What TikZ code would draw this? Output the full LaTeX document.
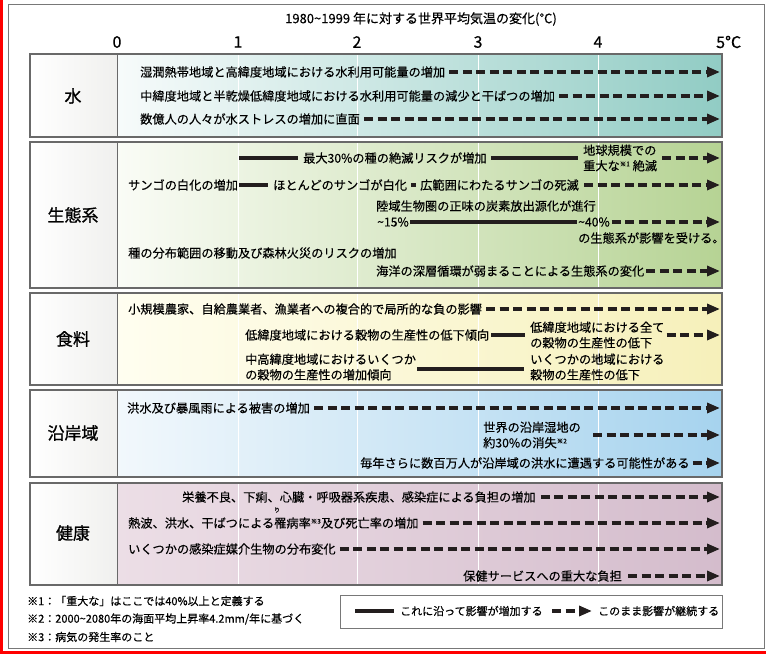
\documentclass[tikz,border=0pt]{standalone}
\usepackage{fontspec}
\setmainfont{Noto Sans CJK JP}[FakeBold=0.35]
\newfontfamily\labfont{Noto Sans CJK JP}[FakeBold=1.0]
\usetikzlibrary{arrows.meta}
\definecolor{arrowc}{RGB}{35,30,30}
\definecolor{framec}{RGB}{120,120,120}
\definecolor{panelc}{RGB}{105,105,105}
\definecolor{labr}{RGB}{240,240,238}
\definecolor{wL}{RGB}{247,251,251}\definecolor{wR}{RGB}{145,204,196}
\definecolor{eL}{RGB}{250,252,246}\definecolor{eR}{RGB}{182,211,148}
\definecolor{fL}{RGB}{255,254,240}\definecolor{fR}{RGB}{246,240,186}
\definecolor{cL}{RGB}{242,248,252}\definecolor{cR}{RGB}{166,211,238}
\definecolor{hL}{RGB}{236,222,230}\definecolor{hR}{RGB}{212,188,204}
\newcommand{\mypanel}[4]{%
  \shade[left color=#3,right color=#4] (117,#1) rectangle (722,#2);
  \shade[left color=white,right color=labr] (30,#1) rectangle (117,#2);
  \foreach \xx in {238,357,478,598} \draw[white,line width=1pt] (\xx,#1) -- (\xx,#2);
  \draw[panelc,line width=1.2pt] (30,#1) rectangle (722,#2);
  \draw[panelc,line width=0.8pt] (117,#1) -- (117,#2);
}
\newcommand{\kome}[1]{\raisebox{4pt}{\fontsize{6.5}{7}\selectfont ※#1}}
\begin{document}
\begin{tikzpicture}[x=1pt,y=-1pt,
  txt/.style={anchor=west,inner sep=0pt,font=\fontsize{12.2}{15.5}\selectfont,align=left},
  lab/.style={font=\labfont\fontsize{17}{20}\selectfont,inner sep=0pt},
  tick/.style={font=\fontsize{16}{17}\selectfont,inner sep=0pt},
  note/.style={anchor=west,inner sep=0pt,font=\fontsize{11}{13}\selectfont},
  dasharr/.style={line width=3.2pt,dash pattern=on 9pt off 4.5pt,-{Triangle[length=13pt,width=10pt]},draw=arrowc},
  solidln/.style={line width=3.2pt,draw=arrowc}]
\useasboundingbox (0,0) rectangle (766,654);
\fill[white] (0,0) rectangle (766,654);
% outer frame and red marks
\draw[framec,line width=1pt] (8,4) rectangle (764,648);
\fill[red] (0,0) rectangle (3,654);
\fill[red] (0,651) rectangle (766,654);
\coordinate (ex) at (720,0);
% title and ticks
\node[font=\fontsize{13}{14}\selectfont,inner sep=0pt] (title) at (421,19) {1980\textasciitilde1999 年に対する世界平均気温の変化(℃)};
\node[tick] (t0) at (117,42) {0};
\node[tick] (t1) at (238,42) {1};
\node[tick] (t2) at (357,42) {2};
\node[tick] (t3) at (478,42) {3};
\node[tick] (t4) at (598,42) {4};
\node[tick,anchor=west] (t5) at (716,42) {5°C};
% panels
\mypanel{54}{137}{wL}{wR}
\mypanel{142}{288}{eL}{eR}
\mypanel{293}{385}{fL}{fR}
\mypanel{390}{477}{cL}{cR}
\mypanel{483}{585}{hL}{hR}
% labels
\node[lab] (L1) at (73,96) {水};
\node[lab] (L2) at (73,215) {生態系};
\node[lab] (L3) at (73,339) {食料};
\node[lab] (L4) at (73,433) {沿岸域};
\node[lab] (L5) at (73,533) {健康};
% water
\node[txt] (w1) at (140,72) {湿潤熱帯地域と高緯度地域における水利用可能量の増加};
\node[txt] (w2) at (140,96) {中緯度地域と半乾燥低緯度地域における水利用可能量の減少と干ばつの増加};
\node[txt] (w3) at (140,119) {数億人の人々が水ストレスの増加に直面};
\draw[dasharr] ([xshift=4pt]w1.east) -- (w1.east -| ex);
\draw[dasharr] ([xshift=4pt]w2.east) -- (w2.east -| ex);
\draw[dasharr] ([xshift=4pt]w3.east) -- (w3.east -| ex);
% ecosystems
\coordinate (e1s) at (239,158);
\node[txt] (e1) at (303,158) {最大30\%の種の絶滅リスクが増加};
\node[txt] (e1b) at (583,158) {地球規模での\\重大な\kome{1} 絶滅};
\draw[solidln] (e1s) -- ([xshift=-5pt]e1.west);
\draw[solidln] ([xshift=4pt]e1.east) -- ([xshift=-5pt]e1b.west);
\draw[dasharr] ([xshift=5pt]e1b.east) -- (e1b.east -| ex);
\node[txt] (e2a) at (128,185) {サンゴの白化の増加};
\node[txt] (e2b) at (273,185) {ほとんどのサンゴが白化};
\node[txt] (e2c) at (420,185) {広範囲にわたるサンゴの死滅};
\draw[solidln] ([xshift=1pt]e2a.east) -- ([xshift=-5pt]e2b.west);
\draw[solidln] ([xshift=4pt]e2b.east) -- ([xshift=-4pt]e2c.west);
\draw[dasharr] ([xshift=5pt]e2c.east) -- (e2c.east -| ex);
\node[txt] (e3) at (376,206) {陸域生物圏の正味の炭素放出源化が進行};
\node[txt] (e4a) at (377,222) {\textasciitilde15\%};
\node[txt] (e4b) at (578,222) {\textasciitilde40\%};
\node[txt] (e4c) at (578,238) {の生態系が影響を受ける。};
\draw[solidln] ([xshift=1pt]e4a.east) -- ([xshift=-1pt]e4b.west);
\draw[dasharr] ([xshift=2pt]e4b.east) -- (e4b.east -| ex);
\node[txt] (e5) at (128,253) {種の分布範囲の移動及び森林火災のリスクの増加};
\node[txt] (e6) at (376,271) {海洋の深層循環が弱まることによる生態系の変化};
\draw[dasharr] ([xshift=2pt]e6.east) -- (e6.east -| ex);
% food
\node[txt] (f1) at (128,309) {小規模農家、自給農業者、漁業者への複合的で局所的な負の影響};
\draw[dasharr] ([xshift=4pt]f1.east) -- (f1.east -| ex);
\node[txt] (f2) at (245,335) {低緯度地域における穀物の生産性の低下傾向};
\node[txt] (f3) at (530,335) {低緯度地域における全て\\の穀物の生産性の低下};
\draw[solidln] ([xshift=2pt]f2.east) -- ([xshift=-5pt]f3.west);
\draw[dasharr] ([xshift=2pt]f3.east) -- (f3.east -| ex);
\node[txt] (f4) at (245,367) {中高緯度地域におけるいくつか\\の穀物の生産性の増加傾向};
\node[txt] (f5) at (530,367) {いくつかの地域における\\穀物の生産性の低下};
\draw[solidln] ([xshift=1pt,yshift=-2pt]f4.east) -- ([xshift=-6pt,yshift=-2pt]f5.west);
% coastal
\node[txt] (c1) at (127,408) {洪水及び暴風雨による被害の増加};
\draw[dasharr] ([xshift=4pt]c1.east) -- (c1.east -| ex);
\node[txt] (c2) at (483,435) {世界の沿岸湿地の\\約30\%の消失\kome{2}};
\draw[dasharr] ([xshift=12pt]c2.east) -- (c2.east -| ex);
\node[txt] (c3) at (360,463) {毎年さらに数百万人が沿岸域の洪水に遭遇する可能性がある};
\draw[dasharr] ([xshift=3pt]c3.east) -- (c3.east -| ex);
% health
\node[txt] (h1) at (182,497) {栄養不良、下痢、心臓・呼吸器系疾患、感染症による負担の増加};
\draw[dasharr] ([xshift=5pt]h1.east) -- (h1.east -| ex);
\node[txt] (h2) at (128,523) {熱波、洪水、干ばつによる罹病率\kome{3}及び死亡率の増加};
\node[inner sep=0pt,font=\fontsize{6}{7}\selectfont] (ru) at (277,510) {り};
\draw[dasharr] ([xshift=4pt]h2.east) -- (h2.east -| ex);
\node[txt] (h3) at (128,549) {いくつかの感染症媒介生物の分布変化};
\draw[dasharr] ([xshift=4pt]h3.east) -- (h3.east -| ex);
\node[txt] (h4) at (463,576) {保健サービスへの重大な負担};
\draw[dasharr] ([xshift=6pt]h4.east) -- (h4.east -| ex);
% footnotes
\node[note] (n1) at (27,601) {※1：「重大な」はここでは40\%以上と定義する};
\node[note] (n2) at (27,619) {※2：2000\textasciitilde2080年の海面平均上昇率4.2mm/年に基づく};
\node[note] (n3) at (27,637) {※3：病気の発生率のこと};
% legend
\node[draw=framec,line width=0.8pt,fill=white,minimum width=382pt,minimum height=33pt,inner sep=0pt] (leg) at (531,611.5) {};
\coordinate (lg1) at (355,611);
\node[note] (lgt1) at (400,611) {これに沿って影響が増加する};
\draw[solidln] (lg1) -- ([xshift=-6pt]lgt1.west);
\coordinate (lg2) at (552,611);
\node[note] (lgt2) at (598,611) {このまま影響が継続する};
\draw[dasharr] (lg2) -- ([xshift=-6pt]lgt2.west);
\end{tikzpicture}
\end{document}
